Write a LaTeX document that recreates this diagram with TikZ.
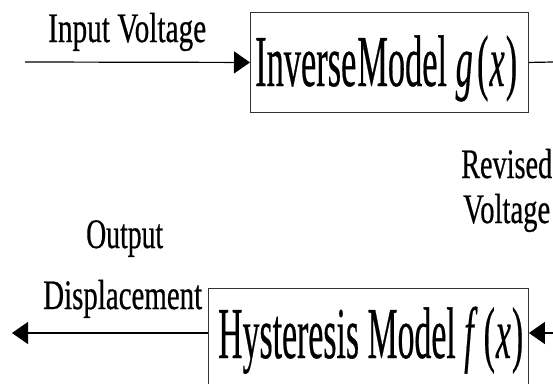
\documentclass[tikz,border=0pt]{standalone}
\usepackage{fontspec}
\setmainfont{Liberation Serif}[FakeBold=0.6]
\usepackage{graphicx}
\usetikzlibrary{arrows.meta}
\tikzset{
  modelbox/.style={draw=black!80, line width=0.9pt, inner sep=0pt, anchor=north west},
  lbl/.style={inner sep=0pt, anchor=base west, font=\fontsize{42}{46}\selectfont},
  bigtxt/.style={inner sep=0pt, anchor=base west, font=\fontsize{73}{80}\selectfont},
  conn/.style={line width=1.2pt, -{Triangle[length=16pt,width=22pt]}},
  plainconn/.style={line width=1.2pt}
}
\begin{document}
\begin{tikzpicture}[x=1pt,y=-1pt]
\useasboundingbox (0,0) rectangle (553,383);
\clip (0,0) rectangle (553,383);
% boxes
\node[modelbox, minimum width=278pt, minimum height=100pt] (inv) at (250,12) {};
\node[modelbox, minimum width=320pt, minimum height=110pt] (hys) at (208,288) {};
% box texts
\node[bigtxt] (invtxt) at (255,86) {\resizebox{262pt}{\height}{{\spaceskip=0.03em\relax Inverse Model} \textit{g}\kern0.12em(\kern0.03em\textit{x}\kern0.03em)}};
\node[bigtxt] (hystxt) at (218,358) {\resizebox{305pt}{\height}{Hysteresis Model \textit{f}\kern0.18em(\kern0.03em\textit{x}\kern0.03em)}};
% labels
\node[lbl] (inlbl) at (48,42) {\resizebox{158pt}{\height}{Input Voltage}};
\node[lbl] (rev1) at (461,178) {\resizebox{91pt}{\height}{Revised}};
\node[lbl] (rev2) at (463,223) {\resizebox{87pt}{\height}{Voltage}};
\node[lbl] (out1) at (86,248) {\resizebox{77pt}{\height}{Output}};
\node[lbl] (out2) at (43,309) {\resizebox{159pt}{\height}{Displacement}};
% connector ends
\coordinate (inStart) at (25,62);
\coordinate (invOut) at (553,62);
\coordinate (hysIn) at (553,333);
\coordinate (outEnd) at (12,333);
% connectors
\draw[conn] (inStart) -- (inv.west);
\draw[plainconn] (inv.east) -- (invOut);
\draw[conn] (hysIn) -- (hys.east |- hysIn);
\draw[conn] (hys.west |- outEnd) -- (outEnd);
\end{tikzpicture}
\end{document}
